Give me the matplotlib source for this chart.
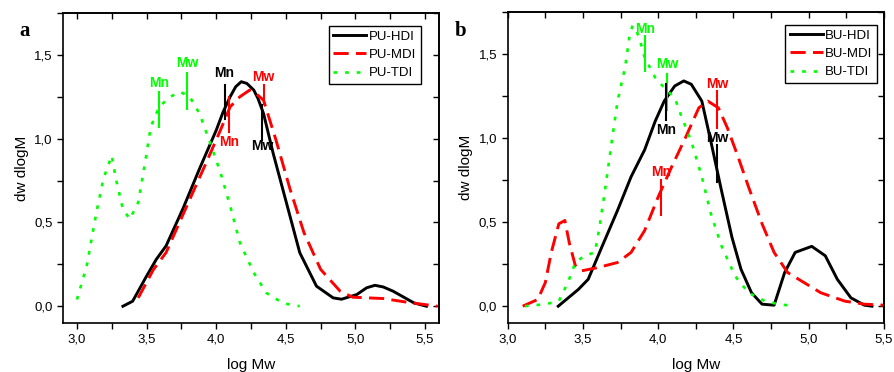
import matplotlib.pyplot as plt
from matplotlib.ticker import MultipleLocator, FuncFormatter, NullFormatter

plt.rcParams['font.family'] = ['Liberation Sans', 'DejaVu Sans']

# panel a - PU series
pu_hdi_x = [3.33, 3.40, 3.50, 3.57, 3.64, 3.76, 3.88, 4.00, 4.05, 4.10, 4.14, 4.18, 4.22,
            4.27, 4.30, 4.34, 4.41, 4.51, 4.60, 4.72, 4.84, 4.90, 5.01, 5.08, 5.14, 5.20,
            5.27, 5.42, 5.51]
pu_hdi_y = [0.0, 0.03, 0.18, 0.28, 0.36, 0.58, 0.82, 1.05, 1.16, 1.25, 1.31, 1.34, 1.33,
            1.29, 1.24, 1.15, 0.91, 0.60, 0.32, 0.12, 0.05, 0.042, 0.07, 0.11, 0.125, 0.115,
            0.09, 0.02, 0.0]
pu_mdi_x = [3.44, 3.55, 3.64, 3.79, 3.93, 4.03, 4.10, 4.17, 4.24, 4.27, 4.34, 4.43, 4.53,
            4.63, 4.75, 4.89, 4.98, 5.20, 5.37, 5.59]
pu_mdi_y = [0.05, 0.22, 0.32, 0.60, 0.86, 1.05, 1.19, 1.25, 1.29, 1.28, 1.23, 0.99, 0.70,
            0.44, 0.22, 0.09, 0.054, 0.046, 0.024, 0.0]
pu_tdi_x = [3.00, 3.07, 3.14, 3.19, 3.25, 3.28, 3.33, 3.38, 3.44, 3.49, 3.53, 3.59, 3.67,
            3.74, 3.81, 3.88, 3.95, 4.03, 4.10, 4.17, 4.27, 4.36, 4.48, 4.60]
pu_tdi_y = [0.04, 0.24, 0.56, 0.76, 0.90, 0.76, 0.58, 0.52, 0.62, 0.86, 1.07, 1.19, 1.25,
            1.28, 1.25, 1.15, 0.99, 0.80, 0.60, 0.38, 0.20, 0.08, 0.018, 0.0]

# panel b - BU series
bu_hdi_x = [3.336, 3.47, 3.535, 3.62, 3.73, 3.82, 3.91, 3.98, 4.04, 4.11, 4.17, 4.22, 4.29,
            4.35, 4.42, 4.49, 4.55, 4.62, 4.69, 4.77, 4.84, 4.91, 5.02, 5.11, 5.19, 5.28,
            5.37, 5.42]
bu_hdi_y = [0.0, 0.10, 0.16, 0.34, 0.57, 0.77, 0.93, 1.10, 1.22, 1.31, 1.34, 1.32, 1.22,
            0.98, 0.69, 0.41, 0.22, 0.08, 0.012, 0.006, 0.20, 0.32, 0.356, 0.30, 0.16, 0.05,
            0.006, 0.0]
bu_mdi_x = [3.10, 3.20, 3.25, 3.29, 3.34, 3.38, 3.41, 3.45, 3.49, 3.60, 3.73, 3.82, 3.91,
            4.00, 4.09, 4.18, 4.27, 4.33, 4.40, 4.46, 4.53, 4.60, 4.69, 4.77, 4.86, 4.97,
            5.08, 5.24, 5.37, 5.50]
bu_mdi_y = [0.0, 0.04, 0.14, 0.32, 0.49, 0.51, 0.375, 0.24, 0.21, 0.23, 0.26, 0.32, 0.45,
            0.65, 0.83, 1.00, 1.18, 1.22, 1.18, 1.06, 0.89, 0.71, 0.49, 0.32, 0.20, 0.14,
            0.08, 0.03, 0.012, 0.006]
bu_tdi_x = [3.115, 3.25, 3.34, 3.40, 3.45, 3.51, 3.58, 3.61, 3.65, 3.69, 3.73, 3.78, 3.81,
            3.83, 3.87, 3.91, 3.98, 4.04, 4.11, 4.15, 4.22, 4.29, 4.35, 4.42, 4.51, 4.60,
            4.71, 4.80, 4.91]
bu_tdi_y = [0.0, 0.012, 0.03, 0.14, 0.26, 0.30, 0.32, 0.47, 0.71, 0.97, 1.22, 1.42, 1.61,
            1.67, 1.61, 1.48, 1.36, 1.30, 1.24, 1.14, 0.98, 0.77, 0.55, 0.36, 0.18, 0.08,
            0.03, 0.012, 0.0]

# Mn / Mw markers: (x, y_low, y_high, label, label_y, colour)
marks_a = [
    (3.59, 1.07, 1.28, 'Mn', 1.335, 'g'),
    (3.79, 1.18, 1.39, 'Mw', 1.45, 'g'),
    (4.06, 1.12, 1.32, 'Mn', 1.395, 'k'),
    (4.09, 1.04, 1.25, 'Mn', 0.98, 'r'),
    (4.34, 1.21, 1.32, 'Mw', 1.37, 'r'),
    (4.33, 0.99, 1.20, 'Mw', 0.955, 'k'),
]
marks_b = [
    (3.91, 1.40, 1.61, 'Mn', 1.65, 'g'),
    (4.06, 1.17, 1.38, 'Mw', 1.44, 'g'),
    (4.05, 1.11, 1.32, 'Mn', 1.05, 'k'),
    (4.39, 1.06, 1.28, 'Mw', 1.32, 'r'),
    (4.39, 0.74, 0.96, 'Mw', 1.00, 'k'),
    (4.02, 0.54, 0.75, 'Mn', 0.80, 'r'),
]

GREEN = '#00ff00'
RED = '#ff0000'
colours = {'g': GREEN, 'r': RED, 'k': 'black'}

fig = plt.figure(figsize=(8.95, 3.72), dpi=100)
ax_a = fig.add_axes([0.0704, 0.1317, 0.4201, 0.8333])
ax_b = fig.add_axes([0.5672, 0.1317, 0.4205, 0.8360])

comma = FuncFormatter(lambda v, p: f'{v:.1f}'.replace('.', ','))


def draw(ax, series, names, marks, xlim, leg_anchor):
    (x1, y1), (x2, y2), (x3, y3) = series
    ax.plot(x1, y1, color='black', lw=2.1, label=names[0])
    ax.plot(x2, y2, color=RED, lw=2.1, dashes=(5.2, 2.5), label=names[1])
    ax.plot(x3, y3, color=GREEN, lw=1.9, dashes=(1.4, 3.0), label=names[2])
    for x, lo, hi, txt, ty, c in marks:
        ax.plot([x, x], [lo, hi], color=colours[c], lw=1.5)
        ax.text(x, ty, txt, color=colours[c], fontsize=10, fontweight='bold',
                ha='center', va='center')
    ax.set_xlim(*xlim)
    ax.set_ylim(-0.1, 1.75)
    for axis in (ax.xaxis, ax.yaxis):
        axis.set_major_locator(MultipleLocator(0.5))
        axis.set_minor_locator(MultipleLocator(0.25))
        axis.set_major_formatter(comma)
    ax.tick_params(which='both', direction='out', labelsize=9.5, width=1, length=4)
    # top and right ticks point inward
    top = ax.secondary_xaxis('top')
    right = ax.secondary_yaxis('right')
    for sec in (top, right):
        axis = sec.xaxis if sec is top else sec.yaxis
        axis.set_major_locator(MultipleLocator(0.5))
        axis.set_minor_locator(MultipleLocator(0.25))
        axis.set_major_formatter(NullFormatter())
        sec.tick_params(which='both', direction='in', width=1, length=4)
        for s in sec.spines.values():
            s.set_linewidth(1.2)
    for s in ax.spines.values():
        s.set_linewidth(1.2)
    ax.set_xlabel('log Mw', fontsize=11, labelpad=9)
    ax.set_ylabel('dw dlogM', fontsize=11, labelpad=4)
    leg = ax.legend(loc='upper right', fontsize=9.5, fancybox=False, framealpha=1,
                    edgecolor='black', handlelength=2.5, handletextpad=0.2,
                    borderpad=0.35, labelspacing=0.45, borderaxespad=0,
                    bbox_to_anchor=leg_anchor)
    leg.get_frame().set_linewidth(1)


draw(ax_a, [(pu_hdi_x, pu_hdi_y), (pu_mdi_x, pu_mdi_y), (pu_tdi_x, pu_tdi_y)],
     ['PU-HDI', 'PU-MDI', 'PU-TDI'], marks_a, (2.9, 5.6), (0.952, 0.958))
draw(ax_b, [(bu_hdi_x, bu_hdi_y), (bu_mdi_x, bu_mdi_y), (bu_tdi_x, bu_tdi_y)],
     ['BU-HDI', 'BU-MDI', 'BU-TDI'], marks_b, (3.0, 5.5), (0.982, 0.958))

fig.text(0.022, 0.903, 'a', fontsize=15, fontweight='bold', family='Liberation Serif')
fig.text(0.508, 0.903, 'b', fontsize=15, fontweight='bold', family='Liberation Serif')

fig.savefig('out.png', dpi=100)
